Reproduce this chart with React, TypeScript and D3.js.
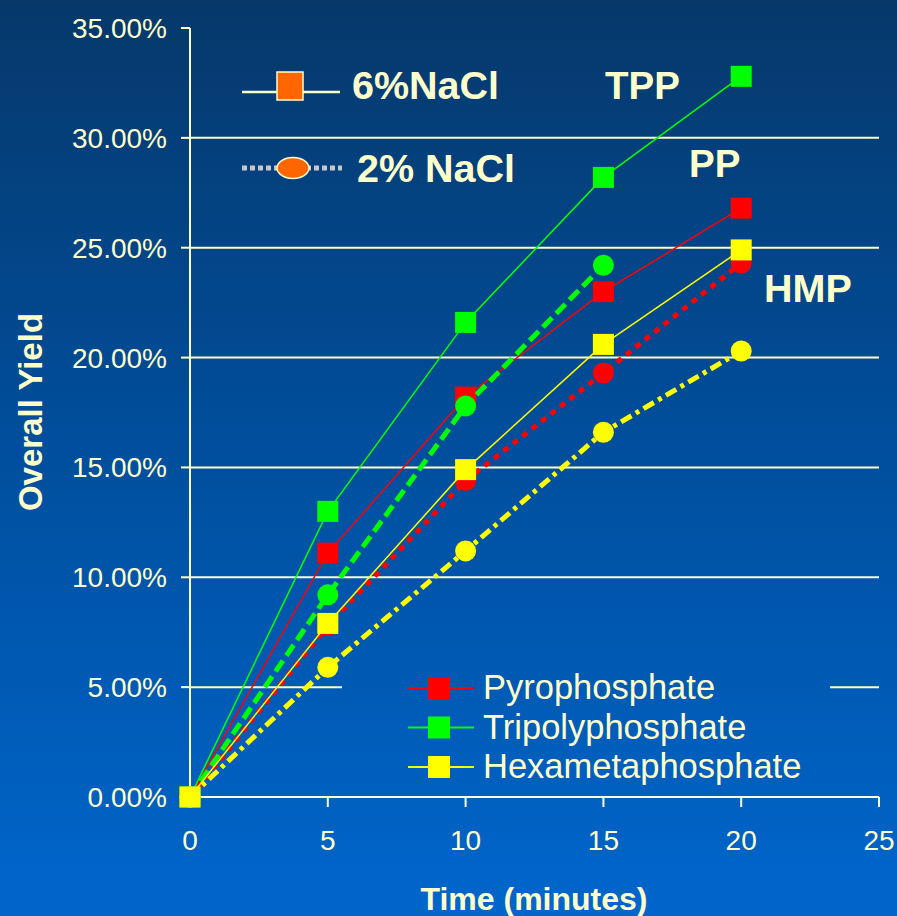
import React from "react";
import * as d3 from "d3";

const times = [0, 5, 10, 15, 20];
const ppHigh = [0, 11.1, 18.2, 23.0, 26.8];
const tppHigh = [0, 13.0, 21.6, 28.2, 32.8];
const hmpHigh = [0, 7.9, 14.9, 20.6, 24.9];
const ppLow = [0, 7.8, 14.4, 19.3, 24.3];
const tppLow = [0, 9.2, 17.8, 24.2];
const hmpLow = [0, 5.9, 11.2, 16.6, 20.3];

const xTicks = [0, 5, 10, 15, 20, 25];
const yTicks = [0, 5, 10, 15, 20, 25, 30, 35];
const gridValues = [5, 10, 15, 20, 25, 30];

const legendNames = ["Pyrophosphate", "Tripolyphosphate", "Hexametaphosphate"];
const legendColors = ["#ff0000", "#00ff00", "#ffff00"];

const W = 897;
const H = 916;
const CREAM = "#ffffcc";
const FONT = "'Liberation Sans', Arial, Helvetica, sans-serif";

type Series = {
  values: number[];
  color: string;
  low: boolean;
  dash?: string;
};

const seriesList: Series[] = [
  { values: ppHigh, color: "#ff0000", low: false },
  { values: ppLow, color: "#ff0000", low: true, dash: "6 6" },
  { values: tppHigh, color: "#00ff00", low: false },
  { values: tppLow, color: "#00ff00", low: true, dash: "13 6" },
  { values: hmpLow, color: "#ffff00", low: true, dash: "12 5 4 5" },
  { values: hmpHigh, color: "#ffff00", low: false },
];

export default function App() {
  const x = d3.scaleLinear().domain([0, 25]).range([190, 879]);
  const y = d3.scaleLinear().domain([0, 35]).range([797, 28]);
  const line = d3
    .line<[number, number]>()
    .x((d) => x(d[0]))
    .y((d) => y(d[1]));

  return (
    <svg
      width={W}
      height={H}
      style={{ position: "absolute", left: 0, top: 0, display: "block" }}
      fontFamily={FONT}
    >
      <defs>
        <linearGradient id="bg" gradientUnits="userSpaceOnUse" x1="0" y1="0" x2="0" y2={H}>
          <stop offset="0" stopColor="#06386a" />
          <stop offset="0.5" stopColor="#004f9e" />
          <stop offset="1" stopColor="#0066cc" />
        </linearGradient>
      </defs>
      <rect x={0} y={0} width={W} height={H} fill="url(#bg)" />

      {/* gridlines */}
      {gridValues.map((v) => (
        <line key={"g" + v} x1={x(0)} x2={x(25)} y1={y(v)} y2={y(v)} stroke={CREAM} strokeWidth={2} />
      ))}

      {/* bottom legend box (covers grid) */}
      <rect x={342} y={660} width={488} height={128} fill="url(#bg)" />

      {/* axes */}
      <line x1={x(0)} x2={x(0)} y1={y(35)} y2={y(0)} stroke={CREAM} strokeWidth={2} />
      <line x1={x(0)} x2={x(25)} y1={y(0)} y2={y(0)} stroke={CREAM} strokeWidth={2} />
      {yTicks.map((v) => (
        <g key={"yt" + v}>
          <line x1={x(0) - 9} x2={x(0)} y1={y(v)} y2={y(v)} stroke={CREAM} strokeWidth={2} />
          <text x={167} y={y(v) + 10} textAnchor="end" fontSize={28} fill={CREAM}>
            {v.toFixed(2) + "%"}
          </text>
        </g>
      ))}
      {xTicks.map((v) => (
        <g key={"xt" + v}>
          <line x1={x(v)} x2={x(v)} y1={y(0)} y2={y(0) + 10} stroke={CREAM} strokeWidth={2} />
          <text x={x(v)} y={850} textAnchor="middle" fontSize={28} fill={CREAM}>
            {v}
          </text>
        </g>
      ))}

      {/* axis titles */}
      <text x={534} y={910} textAnchor="middle" fontSize={32} fontWeight="bold" fill={CREAM}>
        Time (minutes)
      </text>
      <text
        transform={`translate(42,412) rotate(-90)`}
        textAnchor="middle"
        fontSize={33}
        fontWeight="bold"
        fill={CREAM}
      >
        Overall Yield
      </text>

      {/* series */}
      {seriesList.map((s, i) => {
        const pts: [number, number][] = s.values.map((v, j) => [times[j], v]);
        return (
          <g key={"s" + i}>
            <path
              d={line(pts) || ""}
              fill="none"
              stroke={s.color}
              strokeWidth={s.low ? 5 : 1.5}
              strokeDasharray={s.dash}
            />
            {pts.map((p, j) =>
              s.low ? (
                <circle key={j} cx={x(p[0])} cy={y(p[1])} r={10.5} fill={s.color} />
              ) : (
                <rect key={j} x={x(p[0]) - 10.5} y={y(p[1]) - 10.5} width={21} height={21} fill={s.color} />
              )
            )}
          </g>
        );
      })}

      {/* top legend */}
      <line x1={242} x2={340} y1={92} y2={92} stroke={CREAM} strokeWidth={2.5} />
      <rect x={277} y={72} width={26} height={28} fill="#ff6600" stroke={CREAM} strokeWidth={1.5} />
      <text x={352} y={99} fontSize={39.5} fontWeight="bold" fill={CREAM}>
        6%NaCl
      </text>
      <line x1={242} x2={342} y1={168} y2={168} stroke="#c8c8c8" strokeWidth={5} strokeDasharray="5 3" />
      <ellipse cx={293} cy={168} rx={16} ry={10.5} fill="#ff6600" stroke={CREAM} strokeWidth={1.5} />
      <text x={357} y={182} fontSize={39.5} fontWeight="bold" fill={CREAM}>
        2% NaCl
      </text>

      {/* series labels */}
      <text x={605} y={99} fontSize={38.5} fontWeight="bold" fill={CREAM}>TPP</text>
      <text x={689} y={177} fontSize={38.5} fontWeight="bold" fill={CREAM}>PP</text>
      <text x={764} y={302} fontSize={39.5} fontWeight="bold" fill={CREAM}>HMP</text>

      {/* bottom legend */}
      {legendNames.map((name, i) => {
        const ly = 688 + i * 39.5;
        return (
          <g key={"lg" + i}>
            <line x1={408} x2={474} y1={ly} y2={ly} stroke={legendColors[i]} strokeWidth={2} />
            <rect x={428} y={ly - 11} width={22} height={22} fill={legendColors[i]} />
            <text x={483} y={ly + 11} fontSize={34.5} fill={CREAM}>
              {name}
            </text>
          </g>
        );
      })}
    </svg>
  );
}
